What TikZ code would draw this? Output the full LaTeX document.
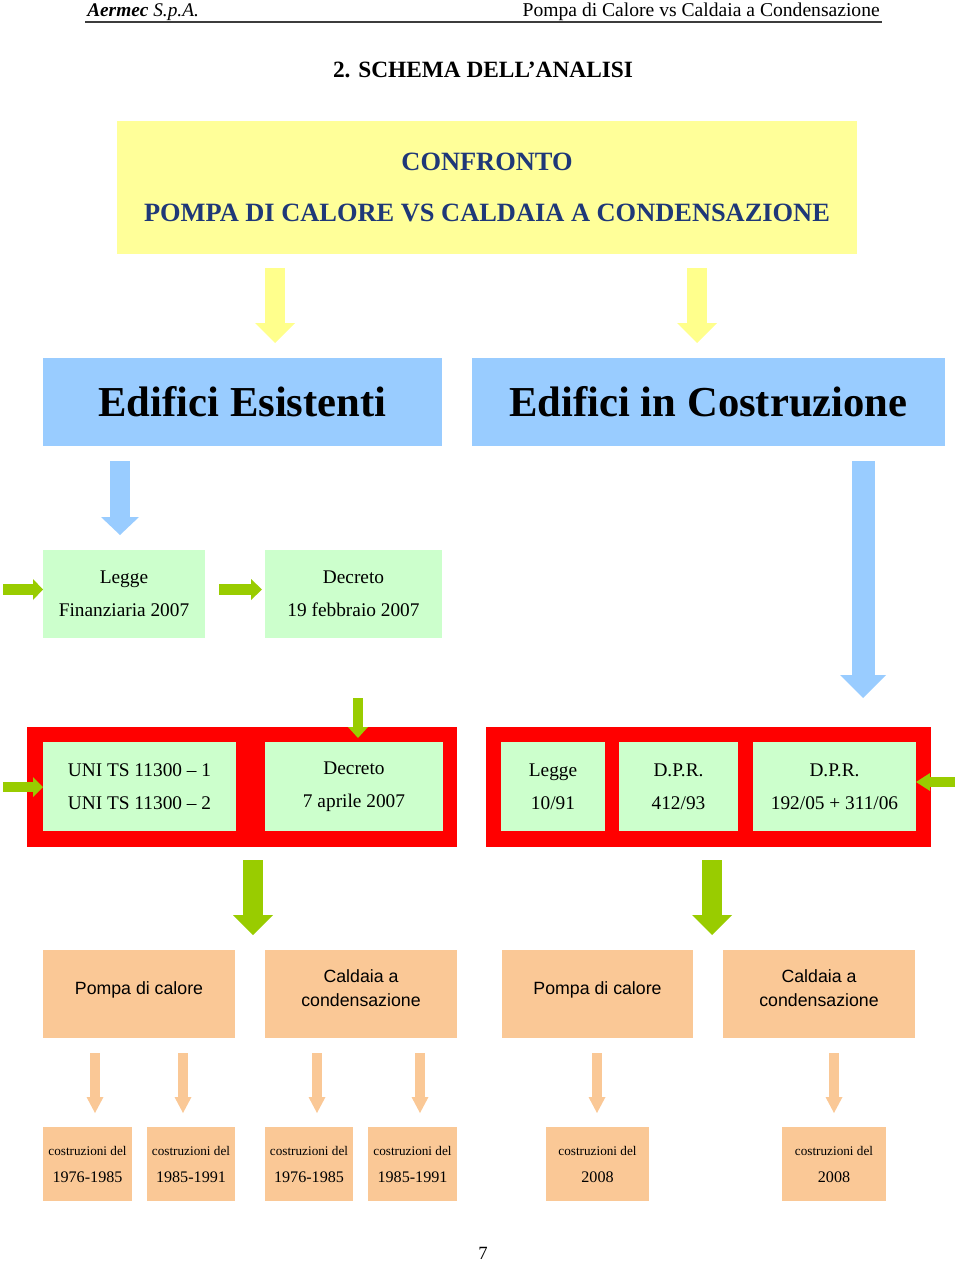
\documentclass[tikz,border=0pt]{standalone}
\usepackage{fontspec}
\setmainfont{Liberation Serif}
\newfontfamily\arialf{Liberation Sans}
\usetikzlibrary{arrows.meta}
\definecolor{cyel}{HTML}{FFFF99}
\definecolor{cyarr}{HTML}{FFFF8C}
\definecolor{cblue}{HTML}{99CCFF}
\definecolor{cgreen}{HTML}{CCFFCC}
\definecolor{carrowg}{HTML}{99CC00}
\definecolor{cred}{HTML}{FF0000}
\definecolor{corange}{RGB}{250,200,150}
\definecolor{cnavy}{RGB}{31,56,120}
\definecolor{crule}{RGB}{60,60,60}
\begin{document}
\begin{tikzpicture}[x=0.75pt,y=-0.75pt,
  box/.style={anchor=north west, inner sep=0pt, outer sep=0pt, align=center, text=black},
  bx/.style n args={2}{minimum width=#1*0.75pt, minimum height=#2*0.75pt},
  arr/.style n args={4}{draw=#1, line width=#2*0.75pt,
     -{Triangle[width=#3*0.75pt, length=#4*0.75pt, line width=0pt]}},
  txt/.style={font=\fontsize{14.5}{24.75}\selectfont},
  gbox/.style={box, fill=cgreen, txt},
  obox/.style={box, fill=corange, text depth=9pt, font=\arialf\fontsize{13.3}{18}\selectfont},
  sbox/.style={box, fill=corange, bx={#1}{74}, font=\fontsize{12.1}{20.25}\selectfont}
]
\useasboundingbox (0,0) rectangle (960,1262);

% header
\node[anchor=base west, inner sep=0pt, font=\fontsize{14.5}{17}\selectfont] (hl) at (87,17) {\textbf{\textit{Aermec}} \textit{S.p.A.}};
\node[anchor=base east, inner sep=0pt, font=\fontsize{14.7}{17}\selectfont] (hr) at (880,17) {Pompa di Calore vs Caldaia a Condensazione};
\draw[crule, line width=1.2pt] (85,22) -- (882,22);
\node[inner sep=0pt, font=\bfseries\fontsize{17.5}{20}\selectfont] (title) at (483,70) {2. SCHEMA DELL’ANALISI};

% top box
\node[box, bx={740}{133}, fill=cyel, text=cnavy, font=\bfseries\fontsize{19.8}{38.25}\selectfont] (conf) at (117,121)
  {CONFRONTO\\POMPA DI CALORE VS CALDAIA A CONDENSAZIONE};

% blue boxes
\node[box, bx={399}{88}, fill=cblue, font=\bfseries\fontsize{32}{36}\selectfont] (esist) at (43,358) {Edifici Esistenti};
\node[box, bx={473}{88}, fill=cblue, font=\bfseries\fontsize{32}{36}\selectfont] (costr) at (472,358) {Edifici in Costruzione};

% green boxes row 1
\node[gbox, bx={162}{88}] (legfin) at (43,550) {Legge\\Finanziaria 2007};
\node[gbox, bx={177}{88}] (decfeb) at (265,550) {Decreto\\19 febbraio 2007};

% red frames
\node[box, bx={430}{120}, fill=cred] (redl) at (27,727) {};
\node[box, bx={445}{120}, fill=cred] (redr) at (486,727) {};
\node[gbox, bx={193}{89}] (uni) at (43,742) {UNI TS 11300 -- 1\\UNI TS 11300 -- 2};
\node[gbox, bx={178}{89}] (decapr) at (265,742) {Decreto\\7 aprile 2007};
\node[gbox, bx={104}{89}] (l1091) at (501,742) {Legge\\10/91};
\node[gbox, bx={119}{89}] (dpr412) at (619,742) {D.P.R.\\412/93};
\node[gbox, bx={163}{89}] (dpr192) at (753,742) {D.P.R.\\192/05 + 311/06};

% orange boxes
\node[obox, bx={192}{88}] (pdc1) at (43,950) {Pompa di calore};
\node[obox, bx={192}{88}] (cal1) at (265,950) {Caldaia a\\condensazione};
\node[obox, bx={191}{88}] (pdc2) at (502,950) {Pompa di calore};
\node[obox, bx={192}{88}] (cal2) at (723,950) {Caldaia a\\condensazione};

% bottom boxes
\newcommand{\cdel}{{\fontsize{9.9}{20.25}\selectfont costruzioni del}}
\node[sbox=89] (b1) at (43,1127) {\cdel\\1976-1985};
\node[sbox=88] (b2) at (147,1127) {\cdel\\1985-1991};
\node[sbox=88] (b3) at (265,1127) {\cdel\\1976-1985};
\node[sbox=89] (b4) at (368,1127) {\cdel\\1985-1991};
\node[sbox=103] (b5) at (546,1127) {\cdel\\2008};
\node[sbox=104] (b6) at (782,1127) {\cdel\\2008};

\node[inner sep=0pt, font=\fontsize{14}{17}\selectfont] (pnum) at (483,1253) {7};

% arrow end coordinates
\coordinate (ya1s) at (275,268); \coordinate (ya1e) at (275,343);
\coordinate (ya2s) at (697,268); \coordinate (ya2e) at (697,343);
\coordinate (ba1s) at (120,461); \coordinate (ba1e) at (120,535);
\coordinate (ba2s) at (863,461); \coordinate (ba2e) at (863,698);
\coordinate (ga1s) at (3,589.5);   \coordinate (ga1e) at (43,589.5);
\coordinate (ga2s) at (219,589.5); \coordinate (ga2e) at (262,589.5);
\coordinate (ga3s) at (358,698);   \coordinate (ga3e) at (358,738);
\coordinate (ga4s) at (3,787);     \coordinate (ga4e) at (43,787);
\coordinate (ga5s) at (955,782);   \coordinate (ga5e) at (916,782);
\coordinate (gb1s) at (253,860);   \coordinate (gb1e) at (253,935);
\coordinate (gb2s) at (712,860);   \coordinate (gb2e) at (712,935);
\foreach \n/\xx in {1/95,2/183,3/317,4/420,5/597,6/834}{
  \coordinate (oa\n s) at (\xx,1053); \coordinate (oa\n e) at (\xx,1113);
}

% arrows
\draw[arr={cyarr}{20}{40}{20}] (ya1s) -- (ya1e);
\draw[arr={cyarr}{20}{40}{20}] (ya2s) -- (ya2e);
\draw[arr={cblue}{20}{38}{18}] (ba1s) -- (ba1e);
\draw[arr={cblue}{23}{46}{23}] (ba2s) -- (ba2e);
\draw[arr={carrowg}{11}{21}{10}] (ga1s) -- (ga1e);
\draw[arr={carrowg}{11}{21}{11}] (ga2s) -- (ga2e);
\draw[arr={carrowg}{10}{20}{11}] (ga3s) -- (ga3e);
\draw[arr={carrowg}{10}{20}{10}] (ga4s) -- (ga4e);
\draw[arr={carrowg}{10}{18}{14}] (ga5s) -- (ga5e);
\draw[arr={carrowg}{20}{40}{20}] (gb1s) -- (gb1e);
\draw[arr={carrowg}{20}{40}{20}] (gb2s) -- (gb2e);
\foreach \n in {1,...,6}{
  \draw[arr={corange}{10}{17}{16}] (oa\n s) -- (oa\n e);
}
\end{tikzpicture}
\end{document}
